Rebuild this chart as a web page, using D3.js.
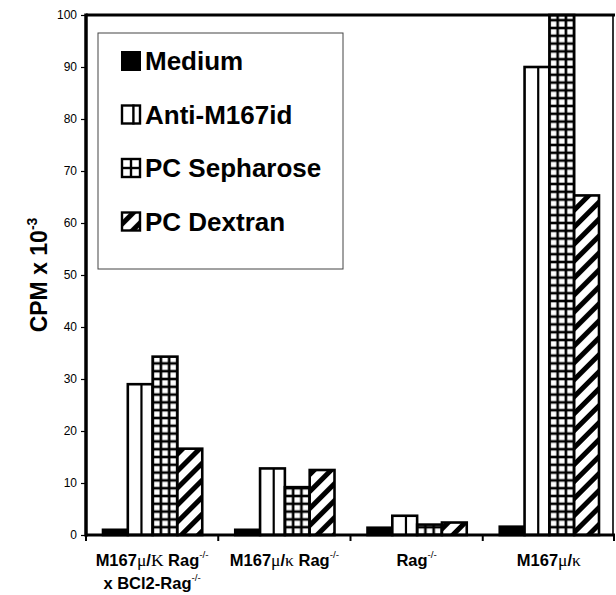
<!DOCTYPE html>
<html><head><meta charset="utf-8">
<script src="https://cdn.jsdelivr.net/npm/d3@7"></script>
<style>body{margin:0;background:#fff} svg{display:block}</style>
</head><body><svg id="c" width="616" height="595"></svg>
<script>
// ---- data ----
const categories = ["M167μ/K Rag-/- x BCl2-Rag-/-", "M167μ/κ Rag-/-", "Rag-/-", "M167μ/κ"];
const seriesNames = ["Medium", "Anti-M167id", "PC Sepharose", "PC Dextran"];
const medium      = [1.0, 1.0, 1.4, 1.6];
const antiM167id  = [29.0, 12.8, 3.7, 90.0];
const pcSepharose = [34.3, 9.2, 2.0, 100.0];
const pcDextran   = [16.6, 12.5, 2.4, 65.3];
const yTicks = [0, 10, 20, 30, 40, 50, 60, 70, 80, 90, 100];
const yTitle = "CPM x 10";
const yTitleSup = "-3";
// label pieces: [text, style] style: b=bold sans, s=serif, p=superscript
const labelLines = [
  [[["M167","b"],["μ","s"],["/","b"],["K","s"],[" Rag","b"],["-/-","p"]],
   [["x BCl2-Rag","b"],["-/-","p"]]],
  [[["M167","b"],["μ","s"],["/","b"],["κ","s"],[" Rag","b"],["-/-","p"]]],
  [[["Rag","b"],["-/-","p"]]],
  [[["M167","b"],["μ","s"],["/","b"],["κ","s"]]]
];
const values = [medium, antiM167id, pcSepharose, pcDextran];

// ---- layout ----
const svg = d3.select("#c");
const L = 86, R = 615, T = 15, B = 535;
const x = d3.scaleBand().domain(categories).range([L, R]);
const xs = d3.scaleBand().domain(seriesNames).range([17, x.bandwidth() - 16]);
const y = d3.scaleLinear().domain([0, 100]).range([B, T]);
const bw = xs.bandwidth();
const SANS = "'Liberation Sans', Arial, Helvetica, sans-serif";
const SERIF = "'Liberation Serif', 'Times New Roman', serif";

const defs = svg.append("defs");
// diagonal hatch
const diag = defs.append("pattern").attr("id", "diag")
  .attr("patternUnits", "userSpaceOnUse").attr("width", 12).attr("height", 12)
  .attr("patternTransform", "rotate(45)");
diag.append("rect").attr("width", 12).attr("height", 12).attr("fill", "#fff");
diag.append("rect").attr("width", 5).attr("height", 12).attr("fill", "#000");

const bars = [];
categories.forEach((c, ci) => {
  seriesNames.forEach((s, si) => {
    bars.push({c, s, ci, si, v: values[si][ci], x0: x(c) + xs(s)});
  });
});

// grid patterns aligned to each Sepharose bar
bars.filter(d => d.si === 2).forEach(d => {
  const w = bw / 3, h = 7.8;
  const p = defs.append("pattern").attr("id", "grid" + d.ci)
    .attr("patternUnits", "userSpaceOnUse")
    .attr("x", d.x0).attr("y", y(0)).attr("width", w).attr("height", h);
  p.append("rect").attr("width", w).attr("height", h).attr("fill", "#000");
  p.append("rect").attr("x", 1.3).attr("y", 1.3).attr("width", w - 2.6).attr("height", h - 2.6).attr("fill", "#fff");
});

const fillFor = d => d.si === 0 ? "#000" : d.si === 1 ? "#fff" : d.si === 2 ? `url(#grid${d.ci})` : "url(#diag)";

const g = svg.append("g");
g.selectAll("rect.bar").data(bars).join("rect").attr("class", "bar")
  .attr("x", d => d.x0).attr("width", bw)
  .attr("y", d => y(d.v)).attr("height", d => y(0) - y(d.v))
  .attr("fill", fillFor).attr("stroke", "#000").attr("stroke-width", 2.6);
// inner line of Anti-M167id bars
g.selectAll("line.anti").data(bars.filter(d => d.si === 1)).join("line").attr("class", "anti")
  .attr("x1", d => d.x0 + bw * 0.55).attr("x2", d => d.x0 + bw * 0.55)
  .attr("y1", d => y(d.v)).attr("y2", y(0))
  .attr("stroke", "#000").attr("stroke-width", 2.2);

// frame
svg.append("line").attr("x1", L).attr("x2", R).attr("y1", T).attr("y2", T).attr("stroke", "#000").attr("stroke-width", 3);
svg.append("line").attr("x1", R - 2).attr("x2", R - 2).attr("y1", T).attr("y2", B).attr("stroke", "#000").attr("stroke-width", 1.6);

// y axis
const ya = svg.append("g").attr("transform", `translate(${L},0)`)
  .call(d3.axisLeft(y).tickValues(yTicks).tickSize(5).tickPadding(4).tickFormat(d3.format("d")));
ya.select(".domain").remove();
ya.selectAll(".tick line").attr("stroke", "#000").attr("stroke-width", 1.2);
ya.selectAll(".tick text").attr("font-family", SANS).attr("font-size", 12).attr("fill", "#000");
svg.append("line").attr("x1", L).attr("x2", L).attr("y1", T - 1.5).attr("y2", B + 1.5).attr("stroke", "#000").attr("stroke-width", 3.5);

// x axis
svg.append("line").attr("x1", L).attr("x2", R).attr("y1", B).attr("y2", B).attr("stroke", "#000").attr("stroke-width", 3);
const edges = categories.map(c => x(c)).concat([x(categories[categories.length - 1]) + x.bandwidth() - 1]);
svg.selectAll("line.xt").data(edges).join("line").attr("class", "xt")
  .attr("x1", d => d).attr("x2", d => d).attr("y1", B).attr("y2", B + 6)
  .attr("stroke", "#000").attr("stroke-width", 2);

// x labels
const XFS = 16.5;
categories.forEach((c, ci) => {
  labelLines[ci].forEach((line, li) => {
    const t = svg.append("text").attr("x", x(c) + x.bandwidth() / 2).attr("y", 566 + li * 23)
      .attr("text-anchor", "middle").attr("font-family", SANS).attr("font-size", XFS).attr("font-weight", "bold").attr("fill", "#000");
    line.forEach(([txt, st]) => {
      const ts = t.append("tspan").text(txt);
      if (st === "s") ts.attr("font-family", SERIF).attr("font-weight", "normal").attr("font-size", XFS + 1);
      if (st === "p") ts.attr("font-size", XFS * 0.6).attr("dy", -8).attr("font-weight", "normal");
    });
  });
});

// y title
const yt = svg.append("text").attr("transform", "translate(47,275) rotate(-90)")
  .attr("text-anchor", "middle").attr("font-family", SANS).attr("font-size", 23).attr("font-weight", "bold").attr("fill", "#000");
yt.append("tspan").text(yTitle);
yt.append("tspan").text(yTitleSup).attr("font-size", 14).attr("dy", -10);

// legend
svg.append("rect").attr("x", 98).attr("y", 33).attr("width", 245).attr("height", 236)
  .attr("fill", "#fff").attr("stroke", "#444").attr("stroke-width", 1);
const lg = svg.selectAll("g.leg").data(seriesNames).join("g").attr("class", "leg")
  .attr("transform", (d, i) => `translate(121,${61 + i * 53.5})`);
const S = 20;
lg.each(function(d, i) {
  const gg = d3.select(this);
  if (i === 0) {
    gg.append("rect").attr("x", 0).attr("y", -S / 2).attr("width", S).attr("height", S).attr("fill", "#000");
  } else {
    gg.append("rect").attr("x", 1).attr("y", -S / 2 + 1).attr("width", S - 2).attr("height", S - 2)
      .attr("fill", i === 3 ? "url(#diag)" : "#fff").attr("stroke", "#000").attr("stroke-width", 2.4);
    if (i === 1) {
      gg.append("line").attr("x1", S * 0.62).attr("x2", S * 0.62).attr("y1", -S / 2).attr("y2", S / 2).attr("stroke", "#000").attr("stroke-width", 2.4);
    }
    if (i === 2) {
      gg.append("line").attr("x1", S / 2).attr("x2", S / 2).attr("y1", -S / 2).attr("y2", S / 2).attr("stroke", "#000").attr("stroke-width", 2.4);
      gg.append("line").attr("x1", 0).attr("x2", S).attr("y1", 0).attr("y2", 0).attr("stroke", "#000").attr("stroke-width", 2.4);
    }
  }
  gg.append("text").attr("x", S + 4).attr("y", 9).text(d)
    .attr("font-family", SANS).attr("font-size", 26).attr("font-weight", "bold").attr("fill", "#000");
});
</script></body></html>
